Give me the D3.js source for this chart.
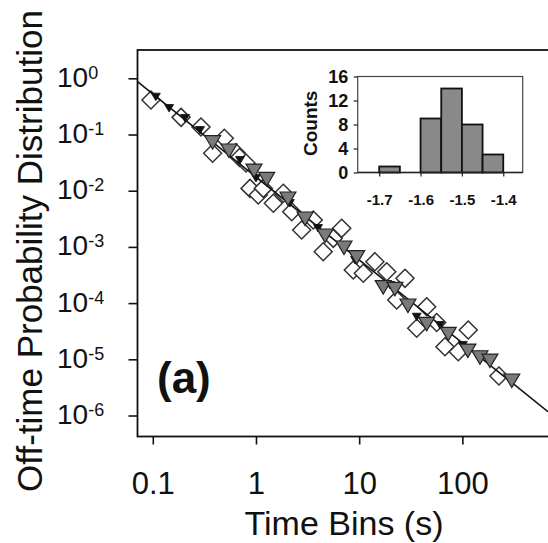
<!DOCTYPE html>
<html><head><meta charset="utf-8">
<script src="https://cdn.jsdelivr.net/npm/d3@7"></script>
<style>html,body{margin:0;padding:0;background:#fff;} svg{display:block;}</style>
</head><body>
<svg id="chart" width="548" height="543"></svg>
<script>
// ---- data ----
const diamondT = [0.096,0.188,0.293,0.493,0.380,0.640,0.692,0.800,0.875,1.052,1.177,1.472,1.840,2.22,2.77,3.59,4.48,5.61,6.77,8.77,10.96,14.2,18.5,23.1,27.8,36.1,45.1,56.4,67.8,91.2,114,226];
const diamondP = [0.411,0.202,0.136,0.0856,0.0463,0.0475,0.0390,0.0311,0.0110,0.00838,0.0110,0.00597,0.00899,0.00423,0.0020,0.00301,0.000822,0.00142,0.00214,0.000388,0.000339,0.000546,0.000362,0.000114,0.000276,3.56e-5,8.63e-5,4.52e-5,1.67e-5,1.36e-5,3.32e-5,5.05e-6];
const triT = [0.380,0.547,0.957,1.27,2.04,2.99,4.67,7.13,9.46,17.1,22.2,29.7,45.1,73.0,113,148,185,301];
const triP = [0.0745,0.053,0.0233,0.0166,0.00741,0.00327,0.00163,0.000996,0.00067,0.000196,0.000183,9.25e-5,4.37e-5,2.9e-5,1.46e-5,1.11e-5,9.7e-6,4.28e-6];
const smallT = [0.107,0.144,0.205,0.287,0.700,1.0,2.13,3.99,9.12,19.9,36.1,60.7,101];
const smallP = [0.471,0.296,0.197,0.120,0.0352,0.0168,0.00604,0.00217,0.000585,0.00021,5.73e-5,4.08e-5,1.8e-5];
const fitT = [0.0711, 675];
const fitP = [0.87, 1.17e-6];
const xTicks = [0.1, 1, 10, 100];
const xTickLabels = ["0.1", "1", "10", "100"];
const yTickExp = [0, -1, -2, -3, -4, -5, -6];
const histStart = [-1.70, -1.60, -1.55, -1.50, -1.45];
const histEnd   = [-1.65, -1.55, -1.50, -1.45, -1.40];
const histCount = [1, 9, 14, 8, 3];
const insetXTicks = [-1.7, -1.6, -1.5, -1.4];
const insetYTicks = [0, 4, 8, 12, 16];

// ---- chart ----
const FONT = "'Liberation Sans', Arial, Helvetica, sans-serif";
const svg = d3.select("#chart").style("font-family", FONT);

const L = 137.5, R = 560, T = 50, B = 436.5;
const x = d3.scaleLog().domain([0.0711, 883]).range([L, R]);
const y = d3.scaleLog().domain([4.23e-7, 3.19]).range([B, T]);

svg.append("defs").append("clipPath").attr("id", "plotclip")
  .append("rect").attr("x", L).attr("y", T).attr("width", R - L).attr("height", B - T);

const plot = svg.append("g").attr("clip-path", "url(#plotclip)");

// diamonds
const dSize = 9;
plot.append("g").selectAll("path").data(diamondT.map((t, i) => [t, diamondP[i]]))
  .join("path")
  .attr("transform", d => `translate(${x(d[0])},${y(d[1])})`)
  .attr("d", `M0,${-dSize}L${dSize},0L0,${dSize}L${-dSize},0Z`)
  .attr("fill", "#fff").attr("stroke", "#333").attr("stroke-width", 1.5);

// fit line
plot.append("path")
  .datum(fitT.map((t, i) => [t, fitP[i]]))
  .attr("d", d3.line().x(d => x(d[0])).y(d => y(d[1])))
  .attr("fill", "none").attr("stroke", "#111").attr("stroke-width", 1.6);

// small black triangles
plot.append("g").selectAll("path").data(smallT.map((t, i) => [t, smallP[i]]))
  .join("path")
  .attr("transform", d => `translate(${x(d[0])},${y(d[1])})`)
  .attr("d", "M-4.5,-3.5L4.5,-3.5L0,4Z")
  .attr("fill", "#111").attr("stroke", "#111").attr("stroke-width", 0.8);

// gray triangles (pointing down)
plot.append("g").selectAll("path").data(triT.map((t, i) => [t, triP[i]]))
  .join("path")
  .attr("transform", d => `translate(${x(d[0])},${y(d[1])})`)
  .attr("d", "M-8,-6L8,-6L0,7.5Z")
  .attr("fill", "#7a7a7a").attr("stroke", "#222").attr("stroke-width", 1.2);

// x axis
const xAxis = svg.append("g").attr("transform", `translate(0,${B})`)
  .call(d3.axisBottom(x).tickValues(xTicks).tickSize(8).tickSizeOuter(0)
    .tickFormat((d, i) => xTickLabels[i]));
xAxis.select(".domain").remove();
xAxis.selectAll(".tick line").attr("stroke", "#111").attr("stroke-width", 1.6);
xAxis.selectAll(".tick text").attr("y", 57.5).attr("dy", 0)
  .attr("fill", "#111").style("font-size", "31px").style("font-family", FONT);

// y axis
const yAxis = svg.append("g").attr("transform", `translate(${L},0)`)
  .call(d3.axisLeft(y).tickValues(yTickExp.map(e => Math.pow(10, e))).tickSize(9).tickSizeOuter(0)
    .tickFormat(() => ""));
yAxis.select(".domain").remove();
yAxis.selectAll(".tick line").attr("stroke", "#111").attr("stroke-width", 1.6);
yAxis.selectAll(".tick text").each(function(d, i) {
  const t = d3.select(this);
  t.text(null).attr("x", 57 - L).attr("y", 8).attr("dy", 0)
    .attr("text-anchor", "start").attr("fill", "#111")
    .style("font-family", FONT);
  t.append("tspan").text("10").style("font-size", "28px");
  t.append("tspan").text(String(yTickExp[i])).attr("dy", -8).style("font-size", "18px");
});

// frame
svg.append("rect").attr("x", L).attr("y", T).attr("width", R - L).attr("height", B - T)
  .attr("fill", "none").attr("stroke", "#111").attr("stroke-width", 1.8);

// axis titles
svg.append("text").attr("x", 344).attr("y", 534.5).attr("text-anchor", "middle")
  .style("font-size", "34px").attr("fill", "#111").text("Time Bins (s)");
svg.append("text").attr("transform", "translate(42,251) rotate(-90)").attr("text-anchor", "middle")
  .style("font-size", "35px").attr("fill", "#111").text("Off-time Probability Distribution");

// panel label
svg.append("text").attr("x", 157).attr("y", 393).style("font-size", "44px")
  .style("font-weight", "bold").attr("fill", "#111").text("(a)");

// ---- inset histogram ----
const iL = 357.7, iR = 522.7, iT = 76.5, iB = 172.5;
const xi = d3.scaleLinear().domain([-1.752, -1.353]).range([iL, iR]);
const yi = d3.scaleLinear().domain([0, 16]).range([iB, iT]);
const inset = svg.append("g");
inset.append("rect").attr("x", iL).attr("y", iT).attr("width", iR - iL).attr("height", iB - iT)
  .attr("fill", "#fff").attr("stroke", "#444").attr("stroke-width", 1.2);
inset.append("g").selectAll("rect").data(histCount.map((c, i) => ({s: histStart[i], e: histEnd[i], c})))
  .join("rect")
  .attr("x", d => xi(d.s)).attr("width", d => xi(d.e) - xi(d.s))
  .attr("y", d => yi(d.c)).attr("height", d => yi(0) - yi(d.c))
  .attr("fill", "#898989").attr("stroke", "#111").attr("stroke-width", 1.8);
inset.append("line").attr("x1", iL).attr("x2", iR).attr("y1", iB).attr("y2", iB)
  .attr("stroke", "#222").attr("stroke-width", 1.4);

const xiAxis = inset.append("g").attr("transform", `translate(0,${iB})`)
  .call(d3.axisBottom(xi).tickValues(insetXTicks).tickSize(4).tickSizeOuter(0).tickFormat(d3.format(".1f")));
xiAxis.select(".domain").remove();
xiAxis.selectAll(".tick line").attr("stroke", "#222").attr("stroke-width", 1.2);
xiAxis.selectAll(".tick text").attr("y", 32.5).attr("dy", 0).attr("fill", "#111")
  .style("font-size", "15px").style("font-weight", "bold").style("font-family", FONT)
  .text(d => d3.format(".1f")(d).replace("−", "-"));

const yiAxis = inset.append("g").attr("transform", `translate(${iL},0)`)
  .call(d3.axisLeft(yi).tickValues(insetYTicks).tickSize(4).tickSizeOuter(0));
yiAxis.select(".domain").remove();
yiAxis.selectAll(".tick line").attr("stroke", "#222").attr("stroke-width", 1.2);
yiAxis.selectAll(".tick text").attr("x", -9.4).attr("dy", "0.36em").attr("fill", "#111")
  .style("font-size", "18px").style("font-weight", "bold").style("font-family", FONT);

inset.append("text").attr("transform", "translate(316.7,123.3) rotate(-90)").attr("text-anchor", "middle")
  .style("font-size", "19px").style("font-weight", "bold").attr("fill", "#111").text("Counts");
</script>
</body></html>
